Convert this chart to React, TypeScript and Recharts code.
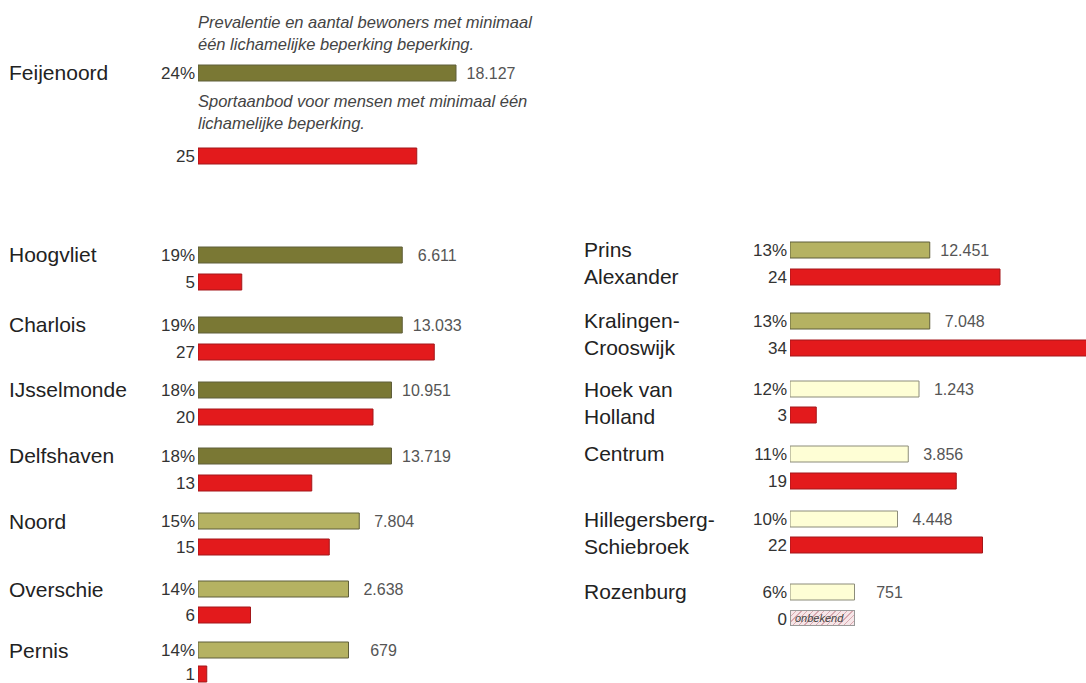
import React from 'react'
import { BarChart, Bar, XAxis, YAxis, LabelList } from 'recharts'

// linker kolom
const leftDistricts = ['Feijenoord', 'Hoogvliet', 'Charlois', 'IJsselmonde', 'Delfshaven', 'Noord', 'Overschie', 'Pernis']
const leftPct = [24, 19, 19, 18, 18, 15, 14, 14]
const leftResidents = [18127, 6611, 13033, 10951, 13719, 7804, 2638, 679]
const leftSport = [25, 5, 27, 20, 13, 15, 6, 1]

// rechter kolom
const rightDistricts = ['Prins\nAlexander', 'Kralingen-\nCrooswijk', 'Hoek van\nHolland', 'Centrum', 'Hillegersberg-\nSchiebroek', 'Rozenburg']
const rightPct = [13, 13, 12, 11, 10, 6]
const rightResidents = [12451, 7048, 1243, 3856, 4448, 751]
const rightSport = [24, 34, 3, 19, 22, 0]
const unknownSport = ['Rozenburg']

const captionTop = ['Prevalentie en aantal bewoners met minimaal', 'één lichamelijke beperking beperking.']
const captionBottom = ['Sportaanbod voor mensen met minimaal één', 'lichamelijke beperking.']

// layout
const PCT_PX = 10.75
const CNT_PX = 8.75
const BAR_H = 16
const AXIS_W = 50
const FONT = "'Liberation Sans', Arial, sans-serif"

const leftCenters = [72, 254, 324, 389, 455, 521, 589, 650]
const leftGaps = [83, 27, 27, 27, 27, 26, 26, 24]
const rightCenters = [249, 320, 389, 453, 519, 591]
const rightGaps = [27, 27, 26, 27, 26, 27]

const fmt = (n: number) => String(n).replace(/\B(?=(\d{3})+(?!\d))/g, '.')

const pctColor = (p: number) => (p >= 16 ? '#7a7834' : p >= 13 ? '#b5b262' : '#fefed5')
const pctStroke = (p: number) => (p >= 13 ? '#5f5e3a' : '#8c8c7a')

function ResidentsLabel(props: any) {
    const { x, y, width, height, value } = props
    if (value == null) return null
    return (
        <text x={x + width + 35} y={y + height / 2} dy="0.35em" textAnchor="middle" fill="#555" fontSize={16}>
            {fmt(value)}
        </text>
    )
}

interface GroupProps {
    name: string
    pct: number
    residents: number
    sport: number
    unknown: boolean
    left: number
    nameX: number
    center: number
    gap: number
    width: number
}

function Group({ name, pct, residents, sport, unknown, left, nameX, center, gap, width }: GroupProps) {
    const plotW = width - AXIS_W
    const rows = [
        { label: `${pct}%`, pct, residents },
        { label: String(sport), sport: unknown ? undefined : sport },
    ]
    const lines = name.split('\n')
    return (
        <>
            <div style={{
                position: 'absolute', left: nameX, top: center - 13.5, fontSize: 21, lineHeight: '27px',
                color: '#222', whiteSpace: 'nowrap',
            }}>
                {lines.map(l => <div key={l}>{l}</div>)}
            </div>
            <div style={{ position: 'absolute', left, top: center - gap / 2 }}>
                <BarChart width={width} height={gap * 2} data={rows} layout="vertical"
                    margin={{ top: 0, right: 0, bottom: 0, left: 0 }} barCategoryGap={0}>
                    <XAxis xAxisId="pct" type="number" domain={[0, plotW / PCT_PX]} hide allowDataOverflow />
                    <XAxis xAxisId="cnt" type="number" domain={[0, plotW / CNT_PX]} hide allowDataOverflow />
                    <YAxis type="category" dataKey="label" width={AXIS_W} tickSize={0} tickMargin={3}
                        axisLine={false} interval={0} tick={{ fill: '#333', fontSize: 17 }} />
                    <Bar xAxisId="pct" dataKey="pct" stackId="s" barSize={BAR_H} fill={pctColor(pct)}
                        stroke={pctStroke(pct)} strokeWidth={1} isAnimationActive={false}>
                        <LabelList dataKey="residents" content={ResidentsLabel} />
                    </Bar>
                    <Bar xAxisId="cnt" dataKey="sport" stackId="s" barSize={BAR_H} fill="#e31a1c"
                        stroke="#a3171a" strokeWidth={1} isAnimationActive={false} />
                </BarChart>
            </div>
            {unknown && (
                <div style={{
                    position: 'absolute', left: left + AXIS_W, top: center + gap - BAR_H / 2,
                    width: 59, height: BAR_H - 2, border: '1px solid #999',
                    background: 'repeating-linear-gradient(135deg, #f6e6e8 0px, #f6e6e8 3px, #d9a9b0 3px, #d9a9b0 4px)',
                    fontSize: 11, fontStyle: 'italic', color: '#444', lineHeight: '14px', paddingLeft: 4,
                    boxSizing: 'content-box',
                }}>
                    onbekend
                </div>
            )}
        </>
    )
}

export default function App() {
    const captionStyle: React.CSSProperties = {
        position: 'absolute', left: 198, fontSize: 16.5, fontStyle: 'italic', color: '#444',
        lineHeight: '22px', whiteSpace: 'nowrap',
    }
    return (
        <div style={{
            position: 'absolute', left: 0, top: 0, width: 1086, height: 683, overflow: 'hidden',
            background: '#fff', fontFamily: FONT,
        }}>
            <div style={{ ...captionStyle, top: 11 }}>
                {captionTop.map(l => <div key={l}>{l}</div>)}
            </div>
            <div style={{ ...captionStyle, top: 90 }}>
                {captionBottom.map(l => <div key={l}>{l}</div>)}
            </div>

            {leftDistricts.map((d, i) => (
                <Group key={d} name={d} pct={leftPct[i]} residents={leftResidents[i]} sport={leftSport[i]}
                    unknown={unknownSport.includes(d)} left={148} nameX={9} center={leftCenters[i]}
                    gap={leftGaps[i]} width={420} />
            ))}
            {rightDistricts.map((d, i) => (
                <Group key={d} name={d} pct={rightPct[i]} residents={rightResidents[i]} sport={rightSport[i]}
                    unknown={unknownSport.includes(d)} left={740} nameX={584} center={rightCenters[i]}
                    gap={rightGaps[i]} width={360} />
            ))}
        </div>
    )
}
